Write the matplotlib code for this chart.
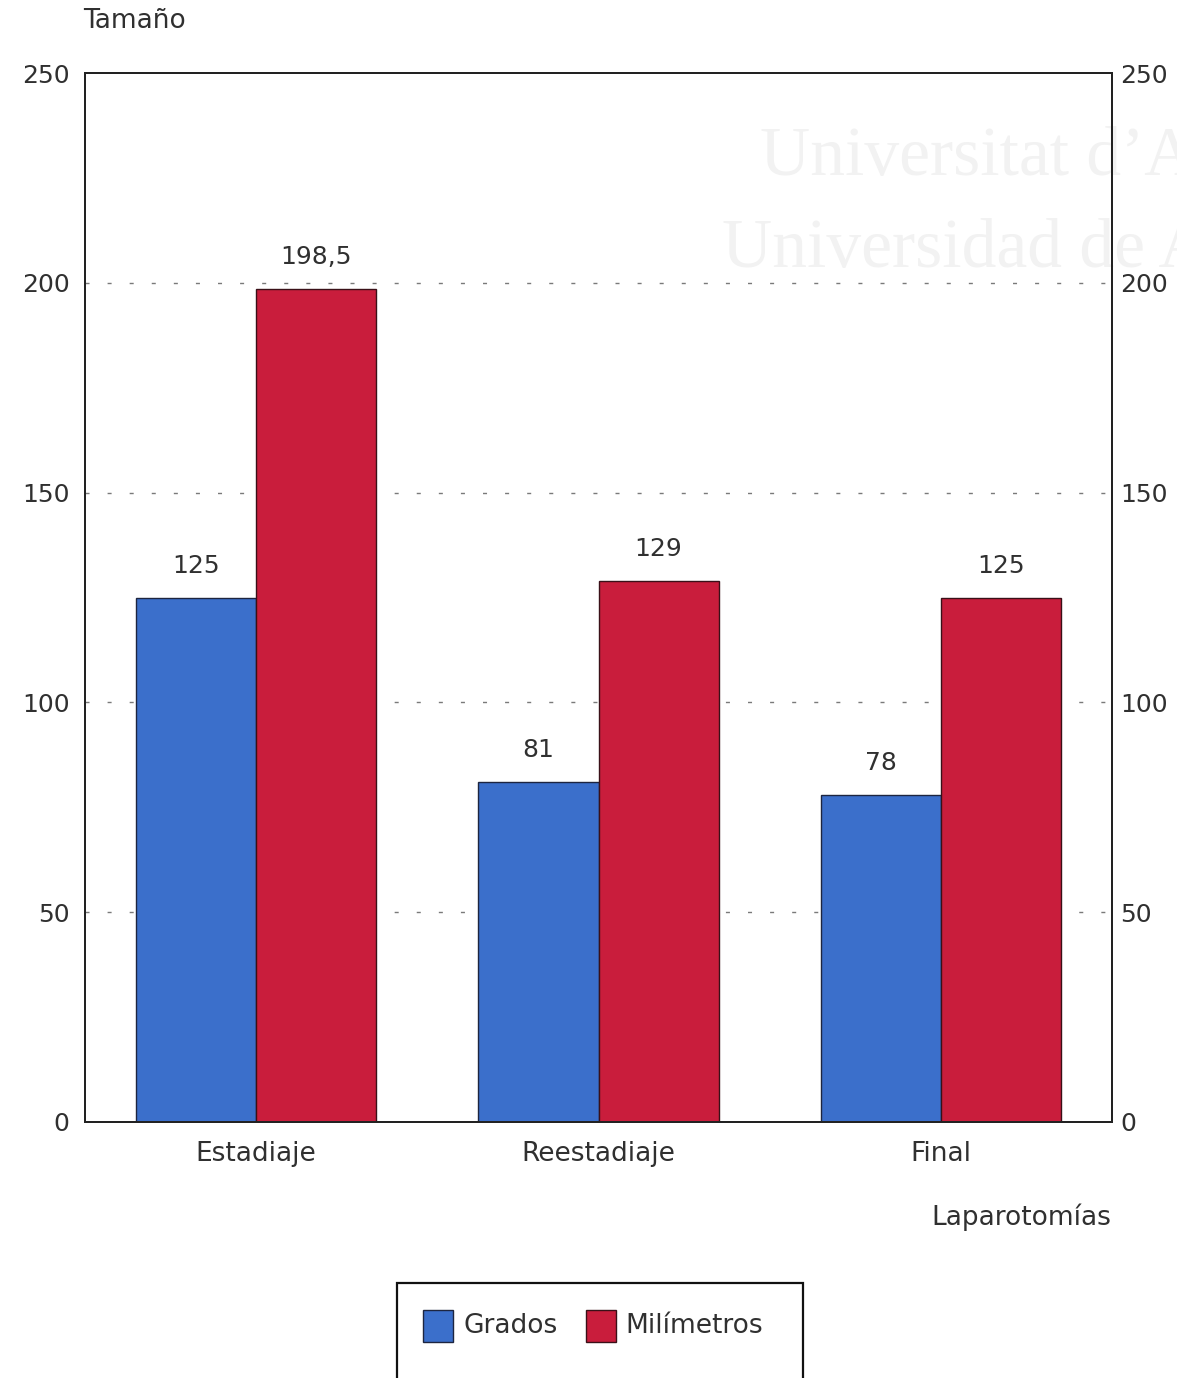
import matplotlib
matplotlib.use("Agg")
import matplotlib.pyplot as plt
import numpy as np
from matplotlib.patches import Rectangle

categories = ["Estadiaje", "Reestadiaje", "Final"]
grados = [125, 81, 78]
milimetros = [198.5, 129, 125]
grados_labels = ["125", "81", "78"]
milimetros_labels = ["198,5", "129", "125"]
yticks = [0, 50, 100, 150, 200, 250]

blue = "#3b6fcb"
red = "#c91d3c"
text_color = "#303030"
fs = 18
fs_words = 19

plt.rcParams["font.family"] = ["DejaVu Sans"]

fig = plt.figure(figsize=(11.77, 13.78), dpi=100)

# faint background watermark, behind the plot frame
fig.text(0.646, 0.873, "Universitat d\u2019A", fontsize=50, family="Liberation Serif",
         color="#f2f2f2", zorder=-5, va="baseline")
fig.text(0.613, 0.806, "Universidad de A", fontsize=50, family="Liberation Serif",
         color="#f2f2f2", zorder=-5, va="baseline")

ax = fig.add_axes([0.0722, 0.1858, 0.8726, 0.7612])
ax.patch.set_facecolor("none")

x = np.arange(len(categories))
w = 0.351
ax.bar(x - w / 2, grados, width=w, color=blue, edgecolor="#1d2540",
       linewidth=1.0, zorder=3)
ax.bar(x + w / 2, milimetros, width=w, color=red, edgecolor="#3a1018",
       linewidth=1.0, zorder=3)

for xi, v, lab in zip(x - w / 2, grados, grados_labels):
    ax.text(xi, v + 7.6, lab, ha="center", va="center", fontsize=fs,
            color=text_color)
for xi, v, lab in zip(x + w / 2, milimetros, milimetros_labels):
    ax.text(xi, v + 7.6, lab, ha="center", va="center", fontsize=fs,
            color=text_color)

ax.set_xlim(-0.5, 2.5)
ax.set_ylim(0, 250)
ax.set_yticks(yticks)
ax.set_yticklabels([str(t) for t in yticks], fontsize=fs, color=text_color)
ax.tick_params(axis="y", length=0, pad=11)
ax.set_xticks(x)
ax.set_xticklabels(categories, fontsize=fs_words, color=text_color)
ax.tick_params(axis="x", length=0, pad=14)

# right-hand scale repeats the left one
axr = ax.twinx()
axr.set_ylim(ax.get_ylim())
axr.set_yticks(yticks)
axr.set_yticklabels([str(t) for t in yticks], fontsize=fs, color=text_color)
axr.tick_params(axis="y", length=0, pad=6)

ax.yaxis.grid(True, linestyle=(0, (2.9, 13)), color="#7a7a7a", linewidth=1.0)
ax.set_axisbelow(True)
for gl, t in zip(ax.get_ygridlines(), yticks):
    if t in (0, 250):
        gl.set_visible(False)

for a in (ax, axr):
    for s in a.spines.values():
        s.set_color("#222222")
        s.set_linewidth(1.4)

fig.text(0.0705, 0.985, "Tamaño", fontsize=fs_words, color=text_color,
         ha="left", va="center")
fig.text(0.944, 0.117, "Laparotomías", fontsize=fs_words, color=text_color,
         ha="right", va="center")

# legend frame, extending past the lower edge of the figure
fig.patches.append(Rectangle((0.3373, -0.05), 0.3449, 0.119, transform=fig.transFigure,
                             fill=False, edgecolor="#111111", linewidth=1.6))
fig.patches.append(Rectangle((0.3598, 0.0261), 0.0255, 0.0232,
                             transform=fig.transFigure, facecolor=blue,
                             edgecolor="#1d2540", linewidth=1.0))
fig.text(0.3934, 0.0377, "Grados", fontsize=fs_words, color=text_color,
         ha="left", va="center")
fig.patches.append(Rectangle((0.4980, 0.0261), 0.0255, 0.0232,
                             transform=fig.transFigure, facecolor=red,
                             edgecolor="#3a1018", linewidth=1.0))
fig.text(0.531, 0.0377, "Milímetros", fontsize=fs_words, color=text_color,
         ha="left", va="center")

fig.savefig("out.png", dpi=100)
